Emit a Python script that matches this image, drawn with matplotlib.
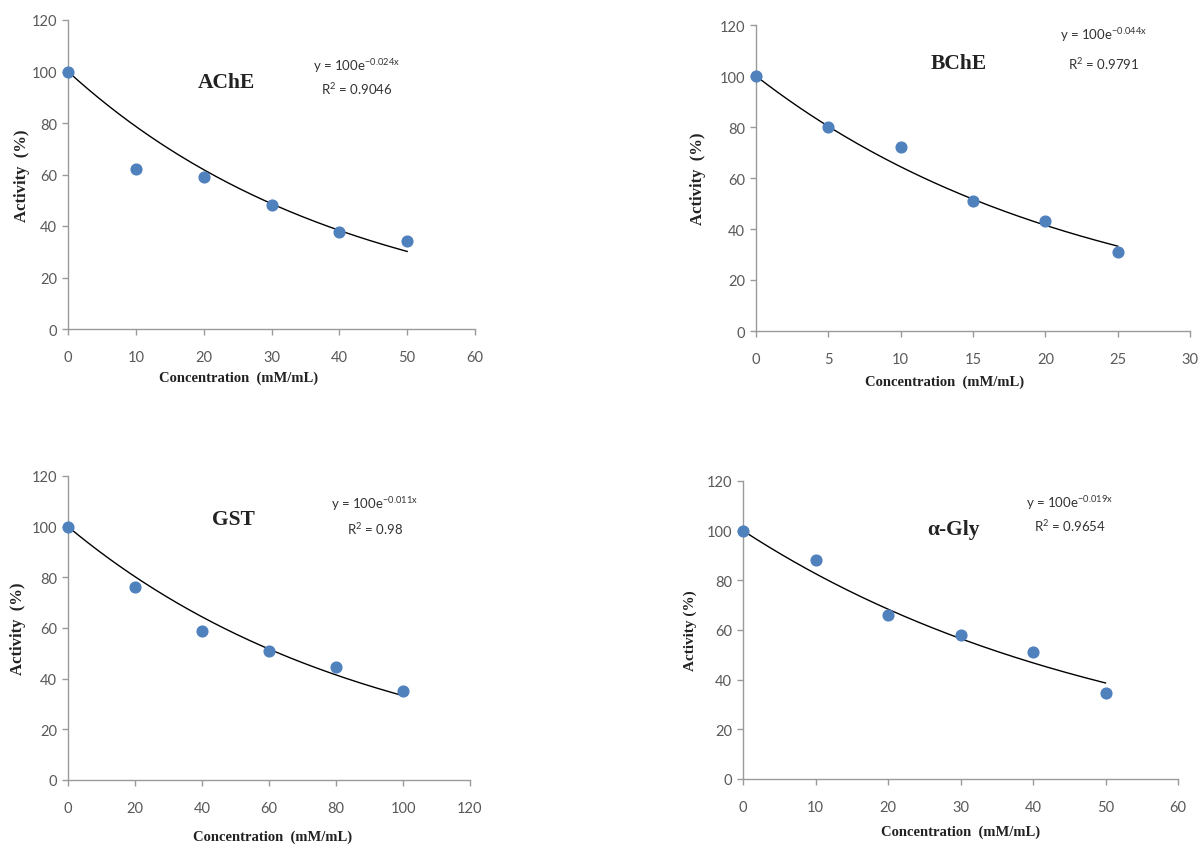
import numpy as np
import matplotlib
matplotlib.use("Agg")
import matplotlib.pyplot as plt

plt.rcParams["mathtext.fontset"] = "custom"
plt.rcParams["mathtext.rm"] = "Lato"
plt.rcParams["mathtext.it"] = "Lato"
plt.rcParams["axes.unicode_minus"] = False

# ---- data ----
titles = ["AChE", "BChE", "GST", "α-Gly"]
ache_x = [0, 10, 20, 30, 40, 50]
ache_y = [100, 62, 59, 48, 37.5, 34]
bche_x = [0, 5, 10, 15, 20, 25]
bche_y = [100, 80, 72, 51, 43, 31]
gst_x = [0, 20, 40, 60, 80, 100]
gst_y = [100, 76, 59, 51, 44.5, 35]
agly_x = [0, 10, 20, 30, 40, 50]
agly_y = [100, 88, 66, 58, 51, 34.5]
rates = [0.024, 0.044, 0.011, 0.019]
r2_labels = ["0.9046", "0.9791", "0.98", "0.9654"]
rate_labels = ["-0.024x", "-0.044x", "-0.011x", "-0.019x"]
xmax = [60, 30, 120, 60]
xstep = [10, 5, 20, 10]
ylabels = ["Activity  (%)", "Activity  (%)", "Activity  (%)", "Activity (%)"]
xlabel = "Concentration  (mM/mL)"

xs = [ache_x, bche_x, gst_x, agly_x]
ys = [ache_y, bche_y, gst_y, agly_y]

W, H = 1198, 845
fig = plt.figure(figsize=(W / 100, H / 100), dpi=100)

# pixel boxes: left, right, top, bottom
boxes = [(68, 475, 21, 330), (756, 1190, 26, 332), (68, 470, 477, 781), (743, 1178, 482, 780)]
title_pos = [(23.4, 96), (14.0, 105), (49.3, 103), (29.0, 100.5)]
eq_pos = [(42.6, 102.5, 93.5), (24.0, 116.5, 105), (91.6, 109.5, 99.5), (45.1, 111.5, 102.2)]
ylab_x = [(22 - 68) / 407, (698 - 756) / 434, (18 - 68) / 402, (690 - 743) / 435]
xlab_pos = [(0.42, -0.155), (0.435, -0.163), (0.51, -0.184), (0.50, -0.175)]
ylab_size = [12, 12, 12, 11]

tick_col = "#595959"
axis_col = "#9a9a9a"
serif = "Liberation Serif"
sans = "Lato"

for i in range(4):
    l, r, t, b = boxes[i]
    ax = fig.add_axes([l / W, (H - b) / H, (r - l) / W, (b - t) / H])
    ax.set_xlim(0, xmax[i])
    ax.set_ylim(0, 120)
    ax.set_xticks(np.arange(0, xmax[i] + 0.1, xstep[i]))
    ax.set_yticks(np.arange(0, 121, 20))
    for s in ["top", "right"]:
        ax.spines[s].set_visible(False)
    for s in ["left", "bottom"]:
        ax.spines[s].set_color(axis_col)
        ax.spines[s].set_linewidth(1.0)
    ax.tick_params(axis="both", colors=axis_col, labelcolor=tick_col, labelsize=10.5,
                   length=4, width=1, direction="out")
    ax.tick_params(axis="x", pad=11)
    ax.tick_params(axis="y", pad=4)
    for lab in ax.get_xticklabels() + ax.get_yticklabels():
        lab.set_family(sans)

    x = np.array(xs[i], dtype=float)
    xx = np.linspace(0, x.max(), 200)
    ax.plot(xx, 100 * np.exp(-rates[i] * xx), color="black", lw=1.0, zorder=2)
    ax.scatter(x, ys[i], s=60, color="#4F81BD", zorder=3, clip_on=False)

    ax.text(title_pos[i][0], title_pos[i][1], titles[i], family=serif, weight="bold",
            fontsize=15.5, ha="center", va="center", color="#222222")
    ex, ey1, ey2 = eq_pos[i]
    ax.text(ex, ey1, r"y = 100e$^{\mathrm{%s}}$" % rate_labels[i], family=sans, fontsize=9.5,
            ha="center", va="center", color="#333333")
    ax.text(ex, ey2, r"R$^{\mathrm{2}}$ = " + r2_labels[i], family=sans, fontsize=9.5,
            ha="center", va="center", color="#333333")

    ax.set_ylabel(ylabels[i], family=serif, weight="bold", fontsize=ylab_size[i], color="#222222",
                  va="center")
    ax.yaxis.set_label_coords(ylab_x[i], 0.5)
    ax.set_xlabel(xlabel, family=serif, weight="bold", fontsize=10.5, color="#222222",
                  va="center")
    ax.xaxis.set_label_coords(xlab_pos[i][0], xlab_pos[i][1])

fig.savefig("out.png", dpi=100)
